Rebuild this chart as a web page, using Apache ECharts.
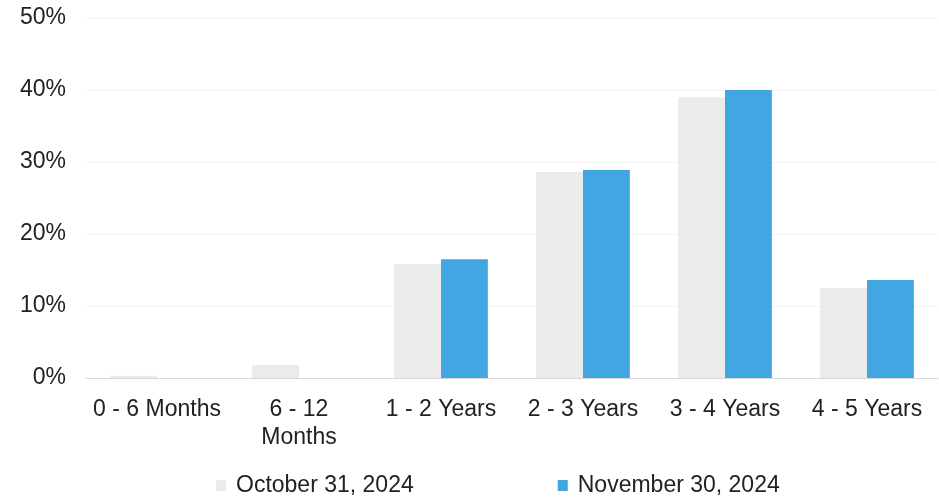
<!DOCTYPE html>
<html>
<head>
<meta charset="utf-8">
<script src="https://cdn.jsdelivr.net/npm/echarts@6/dist/echarts.min.js"></script>
<style>html,body{margin:0;padding:0;background:#fff}#c{width:939px;height:500px}</style>
</head>
<body>
<div id="c"></div>
<script>
var categories = ['0 - 6 Months', '6 - 12\nMonths', '1 - 2 Years', '2 - 3 Years', '3 - 4 Years', '4 - 5 Years'];
var seriesNames = ['October 31, 2024', 'November 30, 2024'];
var october = [0.3, 1.8, 15.8, 28.6, 39.0, 12.5];
var november = [0, 0, 16.5, 28.9, 40.0, 13.6];
var yTicks = [0, 10, 20, 30, 40, 50];

var chart = echarts.init(document.getElementById('c'));
chart.setOption({
  animation: false,
  textStyle: {fontFamily: 'Liberation Sans, Arial, sans-serif'},
  grid: {left: 86, right: 1, top: 18, bottom: 122},
  legend: {
    top: 474,
    left: 216,
    padding: 0,
    itemWidth: 10,
    itemHeight: 11,
    itemGap: 144,
    icon: 'rect',
    textStyle: {fontSize: 23, color: '#222', padding: [0, 0, 0, 5]},
    data: seriesNames
  },
  xAxis: {
    type: 'category',
    data: categories,
    axisLine: {lineStyle: {color: '#d9d9d9', width: 1}},
    axisTick: {show: false},
    axisLabel: {fontSize: 23, color: '#222', margin: 18, lineHeight: 28, interval: 0}
  },
  yAxis: {
    type: 'value',
    min: yTicks[0],
    max: yTicks[yTicks.length - 1],
    interval: 10,
    axisLine: {show: false},
    axisTick: {show: false},
    splitLine: {lineStyle: {color: '#f3f3f3'}},
    axisLabel: {fontSize: 23, color: '#222', margin: 20, formatter: '{value}%'}
  },
  series: [
    {name: seriesNames[0], type: 'bar', data: october, barGap: '0%', barCategoryGap: '34%',
     itemStyle: {color: '#ebebeb'}},
    {name: seriesNames[1], type: 'bar', data: november,
     itemStyle: {color: '#41a6e2'}}
  ]
});
</script>
</body>
</html>
